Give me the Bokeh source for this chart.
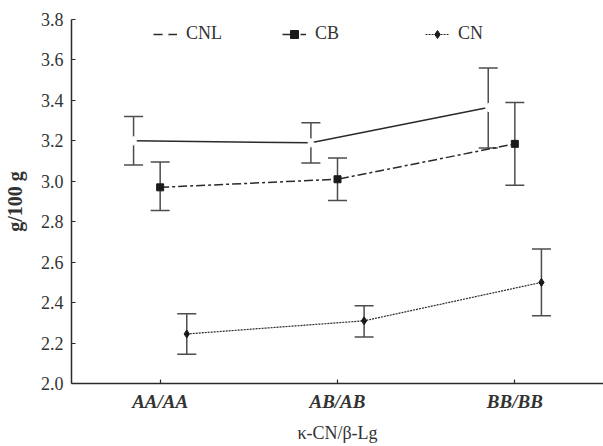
from bokeh.plotting import figure
from bokeh.models import (ColumnDataSource, FactorRange, Range1d, FixedTicker, Whisker,
                          TeeHead, Legend, LegendItem, NumeralTickFormatter)
from bokeh.transform import dodge
from bokeh.embed import file_html
from bokeh.resources import INLINE

genotypes = ["AA/AA", "AB/AB", "BB/BB"]

cnl_mean = [3.20, 3.19, 3.365]
cnl_upper = [3.32, 3.29, 3.56]
cnl_lower = [3.08, 3.09, 3.165]

cb_mean = [2.97, 3.01, 3.185]
cb_upper = [3.095, 3.115, 3.39]
cb_lower = [2.855, 2.905, 2.98]

cn_mean = [2.245, 2.31, 2.50]
cn_upper = [2.345, 2.385, 2.665]
cn_lower = [2.145, 2.23, 2.335]

y_ticks = [2.0, 2.2, 2.4, 2.6, 2.8, 3.0, 3.2, 3.4, 3.6, 3.8]

SERIF = "Liberation Serif"
INK = "#2a2a2a"
BAR = "#4d4d4d"
TXT = "#333333"

p = figure(width=603, height=446, x_range=FactorRange(factors=genotypes, range_padding=0),
           y_range=Range1d(2.0, 3.8), output_backend="svg", toolbar_location=None,
           min_border_left=70, min_border_right=0, min_border_top=19, min_border_bottom=63)
p.outline_line_color = None
p.grid.grid_line_color = None
p.background_fill_color = "white"
p.border_fill_color = "white"

def src(mean, upper, lower):
    return ColumnDataSource(dict(g=genotypes, m=mean, u=upper, l=lower))

s_cnl = src(cnl_mean, cnl_upper, cnl_lower)
s_cb = src(cb_mean, cb_upper, cb_lower)
s_cn = src(cn_mean, cn_upper, cn_lower)

for s, off in ((s_cnl, -0.15), (s_cb, 0.0), (s_cn, 0.15)):
    w = Whisker(source=s, base=dodge("g", off, range=p.x_range), upper="u", lower="l",
                line_color=BAR, line_width=1.5,
                upper_head=TeeHead(size=19, line_color=BAR, line_width=1.5),
                lower_head=TeeHead(size=19, line_color=BAR, line_width=1.5))
    p.add_layout(w)

x_cnl = dodge("g", -0.15, range=p.x_range)
x_cb = dodge("g", 0.0, range=p.x_range)
x_cn = dodge("g", 0.15, range=p.x_range)

l1 = p.line(x=x_cnl, y="m", source=s_cnl, line_color=INK, line_width=1.5)
m1 = p.scatter(x=x_cnl, y="m", source=s_cnl, marker="diamond", size=9,
               fill_color="white", line_color="white")
l2 = p.line(x=x_cb, y="m", source=s_cb, line_color=INK, line_width=1.5, line_dash="9 3 3 3")
m2 = p.scatter(x=x_cb, y="m", source=s_cb, marker="square", size=7,
               fill_color="#1a1a1a", line_color="#1a1a1a")
l3 = p.line(x=x_cn, y="m", source=s_cn, line_color=INK, line_width=1.2, line_dash="2 1")
m3 = p.scatter(x=x_cn, y="m", source=s_cn, marker="diamond", size=8,
               fill_color="#1a1a1a", line_color="#1a1a1a")

for ax in (p.xaxis, p.yaxis):
    ax.axis_line_color = INK
    ax.axis_line_width = 1.5
    ax.major_tick_line_color = INK
    ax.major_tick_line_width = 1.2
    ax.major_tick_in = 4
    ax.major_tick_out = 0
    ax.minor_tick_line_color = None
    ax.major_label_text_font = SERIF
    ax.major_label_text_color = TXT
    ax.axis_label_text_font = SERIF
    ax.axis_label_text_color = TXT

p.yaxis.ticker = FixedTicker(ticks=y_ticks)
p.yaxis.formatter = NumeralTickFormatter(format="0.0")
p.yaxis.major_label_text_font_size = "18px"
p.yaxis.major_label_standoff = 8
p.yaxis.axis_label = "g/100 g"
p.yaxis.axis_label_text_font_size = "20px"
p.yaxis.axis_label_text_font_style = "bold"
p.yaxis.axis_label_standoff = 12

p.xaxis.major_label_text_font_size = "19px"
p.xaxis.major_label_text_font_style = "bold italic"
p.xaxis.major_label_standoff = 7
p.xaxis.axis_label = "κ-CN/β-Lg"
p.xaxis.axis_label_text_font_size = "18px"
p.xaxis.axis_label_text_font_style = "normal"
p.xaxis.axis_label_standoff = 8

def make_legend(label, renderers, x):
    lg = Legend(items=[LegendItem(label=label, renderers=renderers)],
                location=(x, 339), orientation="horizontal",
                background_fill_alpha=0, border_line_color=None,
                padding=0, margin=0, glyph_width=24, glyph_height=20,
                label_standoff=9, label_text_font=SERIF, label_text_font_size="18px",
                label_text_color=TXT)
    p.add_layout(lg)

make_legend("CNL", [l1, m1], 82)
make_legend("CB", [l2, m2], 211)
make_legend("CN", [l3, m3], 354)

open("out.html", "w").write(file_html(p, INLINE))
